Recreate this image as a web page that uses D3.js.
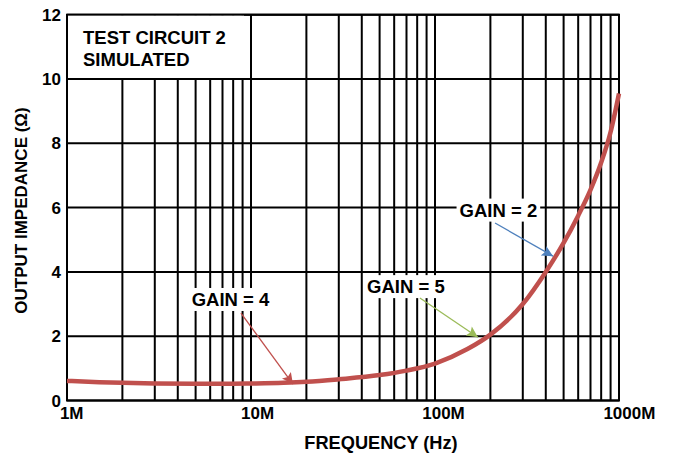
<!DOCTYPE html>
<html><head><meta charset="utf-8">
<script src="https://cdn.jsdelivr.net/npm/d3@7"></script>
<style>body{margin:0;background:#fff}text{font-family:"Liberation Sans",Arial,sans-serif;font-weight:bold;fill:#000}</style>
</head><body><svg id="c" width="675" height="456"></svg>
<script>
// Frequency in MHz, impedance in ohms
const freqMHz = [1, 1.5, 2, 3, 5, 7, 10, 15, 20, 30, 50, 70, 100, 150, 200, 300, 400, 500, 600, 700, 800, 900, 1000];
const impedance = [0.61, 0.57, 0.55, 0.53, 0.52, 0.52, 0.53, 0.55, 0.58, 0.66, 0.79, 0.93, 1.15, 1.6, 2.05, 3.0, 4.0, 4.9, 5.75, 6.55, 7.4, 8.35, 9.55];
const xTickValues = [1, 10, 100, 1000];
const xTickLabels = ["1M", "10M", "100M", "1000M"];
const yTickValues = [0, 2, 4, 6, 8, 10, 12];
const annotLabels = ["GAIN = 2", "GAIN = 5", "GAIN = 4"];
const annotTextAt = [[221, 5.72], [69.5, 3.34], [7.74, 2.94]];
const annotFrom = [[212, 5.52], [82.8, 3.19], [8.82, 2.72]];
const annotTo = [[438, 4.49], [171, 1.97], [16.9, 0.51]];
const annotColors = ["#4f81bd", "#9bbb59", "#c0504d"];

const svg = d3.select("#c");
const L = 67, R = 619, T = 14.7, B = 400.5;
const x = d3.scaleLog().domain([1, 1000]).range([L, R]);
const y = d3.scaleLinear().domain([0, 12]).range([B, T]);

// grid
const minor = [];
for (let d = 1; d < 1000; d *= 10) for (let k = 1; k <= 9; k++) minor.push(d * k);
minor.push(1000);
svg.append("g").selectAll("line").data(minor).join("line")
  .attr("x1", d => x(d)).attr("x2", d => x(d)).attr("y1", T).attr("y2", B)
  .attr("stroke", "#000").attr("stroke-width", 2);
svg.append("g").selectAll("line").data(yTickValues).join("line")
  .attr("x1", L).attr("x2", R).attr("y1", d => y(d)).attr("y2", d => y(d))
  .attr("stroke", "#000").attr("stroke-width", 2);
svg.append("rect").attr("x", L).attr("y", T).attr("width", R - L).attr("height", B - T)
  .attr("fill", "none").attr("stroke", "#000").attr("stroke-width", 2);

// info box
svg.append("rect").attr("x", L + 1).attr("y", T + 1).attr("width", 176).attr("height", y(10) - T - 2).attr("fill", "#fff");
svg.append("text").attr("x", 83).attr("y", 43.5).attr("font-size", 18.5).text("TEST CIRCUIT 2");
svg.append("text").attr("x", 83).attr("y", 65.5).attr("font-size", 18.5).text("SIMULATED");

// y tick labels
svg.append("g").selectAll("text").data(yTickValues).join("text")
  .attr("x", L - 6).attr("y", d => y(d)).attr("dy", "0.36em")
  .attr("text-anchor", "end").attr("font-size", 17).text(d => d);
// x tick labels
svg.append("g").selectAll("text").data(xTickValues).join("text")
  .attr("y", 419).attr("font-size", 17).text((d, i) => xTickLabels[i])
  .each(function (d) {
    const w = this.getComputedTextLength();
    d3.select(this).attr("x", x(d) - 0.3 * w);
  });

// axis titles
svg.append("text").attr("x", 381).attr("y", 449).attr("text-anchor", "middle").attr("font-size", 18.2).text("FREQUENCY (Hz)");
svg.append("text").attr("transform", "translate(27,210.5) rotate(-90)").attr("text-anchor", "middle").attr("font-size", 17).text("OUTPUT IMPEDANCE (Ω)");

// curve
const line = d3.line().x((d, i) => x(freqMHz[i])).y(d => y(d)).curve(d3.curveMonotoneX);
svg.append("path").datum(impedance).attr("d", line).attr("fill", "none")
  .attr("stroke", "#c0504d").attr("stroke-width", 4.5).attr("stroke-linecap", "butt");

// annotations
const defs = svg.append("defs");
annotColors.forEach((c, i) => {
  defs.append("marker").attr("id", "ah" + i).attr("viewBox", "0 0 10 10").attr("refX", 10).attr("refY", 5)
    .attr("markerWidth", 16).attr("markerHeight", 11).attr("markerUnits", "userSpaceOnUse").attr("orient", "auto")
    .append("path").attr("d", "M0,0 L10,5 L0,10 L2,5 Z").attr("fill", c);
});
annotLabels.forEach((t, i) => {
  const g = svg.append("g");
  const txt = g.append("text").attr("x", x(annotTextAt[i][0])).attr("y", y(annotTextAt[i][1]))
    .attr("text-anchor", "middle").attr("font-size", 18.5).text(t);
  const bb = txt.node().getBBox();
  g.insert("rect", "text").attr("x", bb.x - 3).attr("y", bb.y - 1).attr("width", bb.width + 6).attr("height", bb.height + 2).attr("fill", "#fff");
  svg.append("line").attr("x1", x(annotFrom[i][0])).attr("y1", y(annotFrom[i][1]))
    .attr("x2", x(annotTo[i][0])).attr("y2", y(annotTo[i][1]))
    .attr("stroke", annotColors[i]).attr("stroke-width", 1.3).attr("marker-end", "url(#ah" + i + ")");
});
</script></body></html>
